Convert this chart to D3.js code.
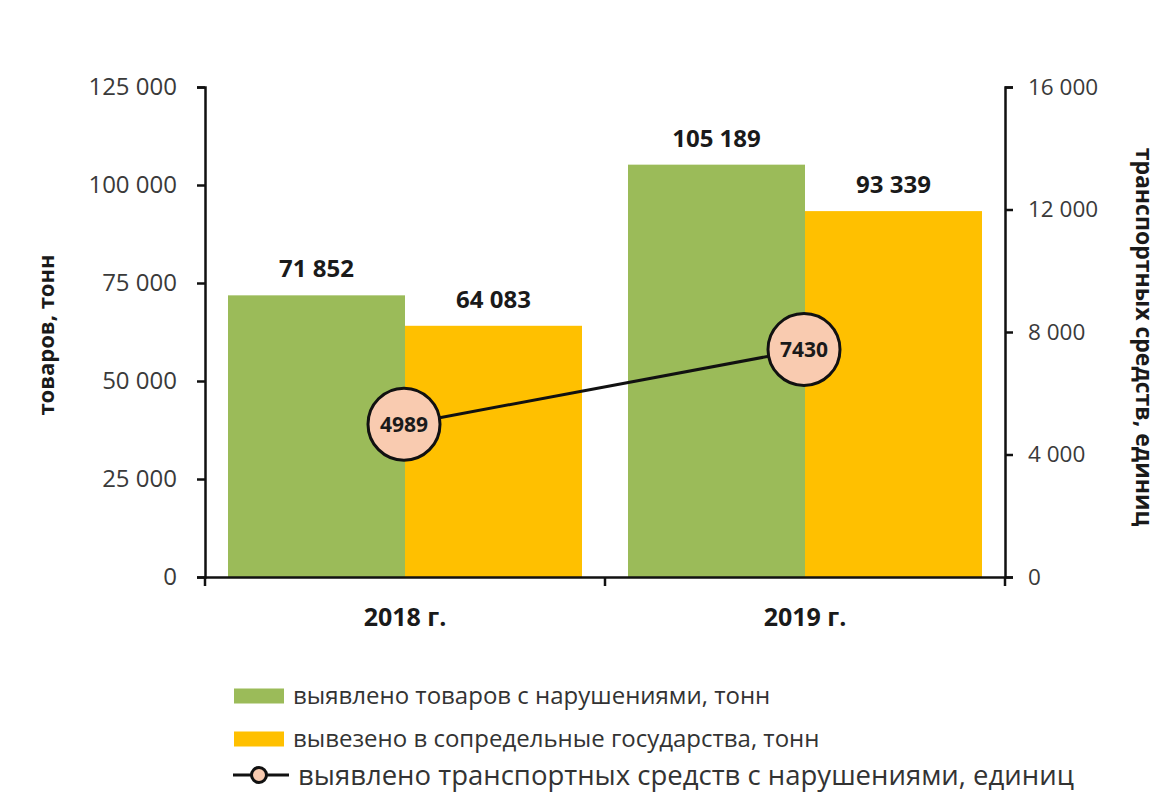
<!DOCTYPE html>
<html>
<head>
<meta charset="utf-8">
<script src="https://cdn.jsdelivr.net/npm/d3@7"></script>
<style>
  body { margin: 0; background: #fff; }
  svg text { font-family: "Open Sans", "Noto Sans", sans-serif; }
</style>
</head>
<body>
<div id="chart"></div>
<script>
const years = ["2018 г.", "2019 г."];
const goodsFound = [71852, 105189];     // выявлено товаров, тонн
const goodsExported = [64083, 93339];   // вывезено, тонн
const vehicles = [4989, 7430];          // транспортных средств, единиц
const leftTicks = [0, 25000, 50000, 75000, 100000, 125000];
const rightTicks = [0, 4000, 8000, 12000, 16000];

const seriesNames = [
  "выявлено товаров с нарушениями, тонн",
  "вывезено в сопредельные государства, тонн",
  "выявлено транспортных средств с нарушениями, единиц"
];
const colors = ["#9bbb59", "#ffc000"];

const width = 1160, height = 794;
const margin = { top: 87, right: 155, bottom: 217, left: 205 };

const fmt = d => d3.format(",")(d).replace(/,/g, " ");

const svg = d3.select("#chart").append("svg")
  .attr("width", width)
  .attr("height", height);

const x0 = d3.scaleBand()
  .domain(years)
  .range([margin.left, width - margin.right])
  .paddingInner(0.115)
  .paddingOuter(0.0575);

const x1 = d3.scaleBand()
  .domain([0, 1])
  .range([0, x0.bandwidth()]);

const yLeft = d3.scaleLinear()
  .domain([0, 125000])
  .range([height - margin.bottom, margin.top]);

const yRight = d3.scaleLinear()
  .domain([0, 16000])
  .range([height - margin.bottom, margin.top]);

// bars
const bars = years.map((y, i) => [goodsFound[i], goodsExported[i]]);
const groups = svg.append("g")
  .selectAll("g")
  .data(bars)
  .join("g")
  .attr("transform", (d, i) => `translate(${x0(years[i])},0)`);

groups.selectAll("rect")
  .data(d => d)
  .join("rect")
  .attr("x", (d, j) => x1(j))
  .attr("width", x1.bandwidth())
  .attr("y", d => yLeft(d))
  .attr("height", d => yLeft(0) - yLeft(d))
  .attr("fill", (d, j) => colors[j]);

groups.selectAll("text")
  .data(d => d)
  .join("text")
  .attr("x", (d, j) => x1(j) + x1.bandwidth() / 2)
  .attr("y", d => yLeft(d) - 18)
  .attr("text-anchor", "middle")
  .attr("font-size", 24)
  .attr("font-weight", "bold")
  .attr("fill", "#1a1a1a")
  .text(d => fmt(d));

// axes
const leftAxis = d3.axisLeft(yLeft)
  .tickValues(leftTicks)
  .tickSize(8)
  .tickPadding(20)
  .tickFormat(fmt);

const rightAxis = d3.axisRight(yRight)
  .tickValues(rightTicks)
  .tickSize(8)
  .tickPadding(15)
  .tickFormat(fmt);

function styleAxis(size) {
  return g => {
    g.select(".domain").attr("stroke", "#111").attr("stroke-width", 2.5);
    g.selectAll(".tick line").attr("stroke", "#111").attr("stroke-width", 2.5);
    g.selectAll(".tick text")
      .attr("font-size", size)
      .attr("fill", "#3a3a3a");
  };
}

svg.append("g")
  .attr("transform", `translate(${margin.left},0)`)
  .call(leftAxis)
  .call(styleAxis(24));

svg.append("g")
  .attr("transform", `translate(${width - margin.right},0)`)
  .call(rightAxis)
  .call(styleAxis(22.5));

// bottom axis: category boundaries as ticks
const xAxis = d3.axisBottom(x0)
  .tickSize(0)
  .tickPadding(31);

svg.append("g")
  .attr("transform", `translate(0,${yLeft(0)})`)
  .call(xAxis)
  .call(g => {
    g.select(".domain").attr("stroke", "#111").attr("stroke-width", 2.5);
    g.selectAll(".tick text")
      .attr("font-size", 25)
      .attr("font-weight", "bold")
      .attr("fill", "#1a1a1a");
  });

const step = x0.step();
const bounds = [margin.left, margin.left + step, width - margin.right];
svg.append("g")
  .selectAll("line")
  .data(bounds)
  .join("line")
  .attr("x1", d => d)
  .attr("x2", d => d)
  .attr("y1", yLeft(0))
  .attr("y2", yLeft(0) + 9)
  .attr("stroke", "#111")
  .attr("stroke-width", 2.5);

// axis titles
svg.append("text")
  .attr("transform", `translate(54,${(margin.top + height - margin.bottom) / 2 + 3}) rotate(-90)`)
  .attr("text-anchor", "middle")
  .attr("font-size", 22)
  .attr("font-weight", "bold")
  .attr("fill", "#1a1a1a")
  .text("товаров, тонн");

svg.append("text")
  .attr("transform", `translate(1136,${(margin.top + height - margin.bottom) / 2 + 5}) rotate(90)`)
  .attr("text-anchor", "middle")
  .attr("font-size", 23)
  .attr("font-weight", "bold")
  .attr("fill", "#1a1a1a")
  .text("транспортных средств, единиц");

// line series
const linePts = years.map((y, i) => [x0(y) + x0.bandwidth() / 2, yRight(vehicles[i])]);
svg.append("path")
  .attr("d", d3.line()(linePts))
  .attr("fill", "none")
  .attr("stroke", "#111")
  .attr("stroke-width", 3);

const markers = svg.append("g")
  .selectAll("g")
  .data(vehicles)
  .join("g")
  .attr("transform", (d, i) => `translate(${linePts[i][0] - 1},${linePts[i][1]})`);

markers.append("circle")
  .attr("r", 36)
  .attr("fill", "#f9cbb0")
  .attr("stroke", "#111")
  .attr("stroke-width", 3);

markers.append("text")
  .attr("text-anchor", "middle")
  .attr("dy", "0.35em")
  .attr("font-size", 21)
  .attr("font-weight", "bold")
  .attr("fill", "#1a1a1a")
  .text(d => d);

// legend
const legendRowY = [696, 739, 775];
const legendFont = [24, 24, 27.5];
const legend = svg.append("g")
  .attr("transform", "translate(234,0)");

const rows = legend.selectAll("g")
  .data(seriesNames)
  .join("g")
  .attr("transform", (d, i) => `translate(0,${legendRowY[i]})`);

rows.filter((d, i) => i < 2)
  .append("rect")
  .attr("x", 0)
  .attr("y", -7.5)
  .attr("width", 50)
  .attr("height", 15)
  .attr("fill", (d, i) => colors[i]);

const lineRow = rows.filter((d, i) => i === 2);
lineRow.append("line")
  .attr("x1", -1).attr("x2", 55)
  .attr("y1", 0).attr("y2", 0)
  .attr("stroke", "#111")
  .attr("stroke-width", 3);
lineRow.append("circle")
  .attr("cx", 25)
  .attr("r", 7.5)
  .attr("fill", "#f9cbb0")
  .attr("stroke", "#111")
  .attr("stroke-width", 3);

rows.append("text")
  .attr("x", (d, i) => i < 2 ? 59 : 64)
  .attr("dy", "0.35em")
  .attr("font-size", (d, i) => legendFont[i])
  .attr("fill", "#333")
  .text(d => d);
</script>
</body>
</html>
